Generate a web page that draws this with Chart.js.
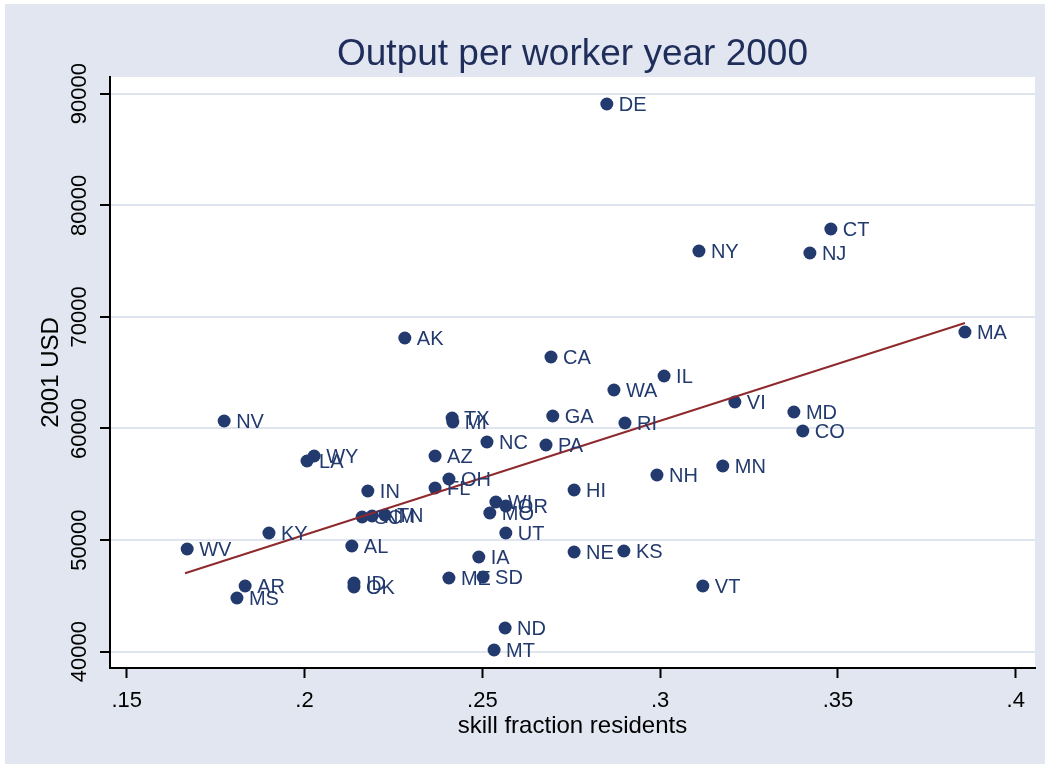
<!DOCTYPE html>
<html><head><meta charset="utf-8">
<script src="https://cdn.jsdelivr.net/npm/chart.js@4"></script>
<style>html,body{margin:0;padding:0;background:#fff}#wrap{width:1050px;height:766px}</style>
</head><body><div id="wrap"><canvas id="c" width="1050" height="766"></canvas></div>
<script>
// ---- data ----
const states = ["DE","CT","NY","NJ","AK","MA","CA","IL","WA","VI","MD","GA","RI","TX","MI","NV","CO","NC","PA","AZ","WY","LA","OH","NH","MN","FL","IN","HI","WI","OR","MO","UT","SC","NM","TN","KY","WV","AL","IA","NE","KS","ME","SD","AR","MS","ID","OK","ND","MT","VT"];
const skillFraction = [0.2850,0.3480,0.3109,0.3421,0.2282,0.3857,0.2693,0.3011,0.2870,0.3210,0.3376,0.2698,0.2901,0.2415,0.2417,0.1774,0.3401,0.2513,0.2679,0.2367,0.2027,0.2007,0.2406,0.2991,0.3176,0.2367,0.2178,0.2758,0.2538,0.2566,0.2521,0.2566,0.2162,0.2190,0.2226,0.1900,0.1670,0.2133,0.2490,0.2758,0.2898,0.2406,0.2502,0.1833,0.1810,0.2139,0.2139,0.2564,0.2533,0.3120];
const outputPerWorker = [89075,77876,75905,75724,68108,68646,66406,64703,63450,62374,61478,61120,60493,60940,60582,60671,59776,58790,58521,57536,57536,57087,55475,55833,56640,54668,54399,54489,53414,53055,52428,50636,52070,52160,52249,50636,49202,49471,48486,48933,49023,46604,46694,45887,44812,46156,45797,42124,40152,45887];
const fitX = [0.1664, 0.3857];
const fitY = [47025, 69453];
const xTickValues = [0.15,0.2,0.25,0.3,0.35,0.4];
const xTickLabels = [".15",".2",".25",".3",".35",".4"];
const yTickValues = [40000,50000,60000,70000,80000,90000];
const yTickLabels = ["40000","50000","60000","70000","80000","90000"];
const titleText = "Output per worker year 2000";
const xTitle = "skill fraction residents";
const yTitle = "2001 USD";

// ---- style ----
const FONT = "'Liberation Sans', Arial, sans-serif";
const NAVY = "#233a6e";
const BG = "#e1e6f0";

const bgPlugin = {
  id: 'bg',
  beforeDraw(chart) {
    const c = chart.ctx, a = chart.chartArea;
    c.save();
    c.fillStyle = '#ffffff';
    c.fillRect(0, 0, chart.width, chart.height);
    c.fillStyle = BG;
    c.fillRect(5, 4, chart.width - 10, chart.height - 6);
    c.fillStyle = '#ffffff';
    c.fillRect(a.left, a.top, a.right - a.left, a.bottom - a.top);
    c.restore();
  },
  afterDraw(chart) {
    const c = chart.ctx, ys = chart.scales.y;
    c.save();
    c.fillStyle = '#000';
    c.font = "22px " + FONT;
    c.textAlign = 'center';
    c.textBaseline = 'alphabetic';
    yTickValues.forEach((v, i) => {
      const py = ys.getPixelForValue(v);
      c.save();
      c.translate(86, py);
      c.rotate(-Math.PI / 2);
      c.fillText(yTickLabels[i], 0, 0);
      c.restore();
    });
    c.restore();
  }
};

const labelPlugin = {
  id: 'pointLabels',
  afterDatasetsDraw(chart) {
    const meta = chart.getDatasetMeta(1);
    const c = chart.ctx;
    c.save();
    c.fillStyle = NAVY;
    c.font = "20px " + FONT;
    c.textAlign = 'left';
    c.textBaseline = 'middle';
    meta.data.forEach((el, i) => {
      c.fillText(states[i], el.x + 12, el.y + 1);
    });
    c.restore();
  }
};

new Chart(document.getElementById('c'), {
  data: {
    datasets: [
      {
        type: 'line',
        label: 'fit',
        data: fitX.map((x, i) => ({x: x, y: fitY[i]})),
        borderColor: '#8e2a2e',
        borderWidth: 2,
        pointRadius: 0,
        fill: false,
        order: 0
      },
      {
        type: 'scatter',
        label: 'states',
        data: skillFraction.map((x, i) => ({x: x, y: outputPerWorker[i]})),
        backgroundColor: NAVY,
        borderColor: NAVY,
        borderWidth: 0,
        pointRadius: 6.5,
        order: 1
      }
    ]
  },
  options: {
    responsive: false,
    animation: false,
    devicePixelRatio: 1,
    events: [],
    layout: {padding: {left: 0, right: 15, top: 0, bottom: 0}},
    plugins: {
      legend: {display: false},
      tooltip: {enabled: false},
      title: {
        display: true,
        fullSize: false,
        text: titleText,
        color: '#1e2d5a',
        font: {family: FONT, size: 37, weight: 'normal', lineHeight: 1.2},
        padding: {top: 32.5, bottom: 0.1}
      }
    },
    scales: {
      x: {
        type: 'linear',
        min: 0.1453,
        max: 0.4054,
        afterBuildTicks: s => { s.ticks = xTickValues.map(v => ({value: v})); },
        afterFit: s => { s.height = 98; },
        ticks: {
          callback: (v) => xTickLabels[xTickValues.indexOf(v)],
          color: '#000',
          font: {family: FONT, size: 22},
          padding: 10,
          maxRotation: 0,
          minRotation: 0
        },
        grid: {display: true, drawOnChartArea: false, drawTicks: true, tickLength: 10, tickColor: '#000', tickWidth: 2},
        border: {display: true, color: '#000', width: 2},
        title: {display: true, text: xTitle, color: '#000', font: {family: FONT, size: 24}, padding: {top: 0, bottom: 25.6}}
      },
      y: {
        type: 'linear',
        min: 38539,
        max: 91496,
        afterBuildTicks: s => { s.ticks = yTickValues.map(v => ({value: v})); },
        afterFit: s => { s.width = 110; },
        ticks: {display: false},
        grid: {display: true, drawOnChartArea: true, color: '#dfe4ee', lineWidth: 2, drawTicks: true, tickLength: 10, tickColor: '#000', tickWidth: 2},
        border: {display: true, color: '#000', width: 2},
        title: {display: true, text: yTitle, color: '#000', font: {family: FONT, size: 24}, padding: {top: 37, bottom: 0}}
      }
    }
  },
  plugins: [bgPlugin, labelPlugin]
});
</script>
</body></html>
